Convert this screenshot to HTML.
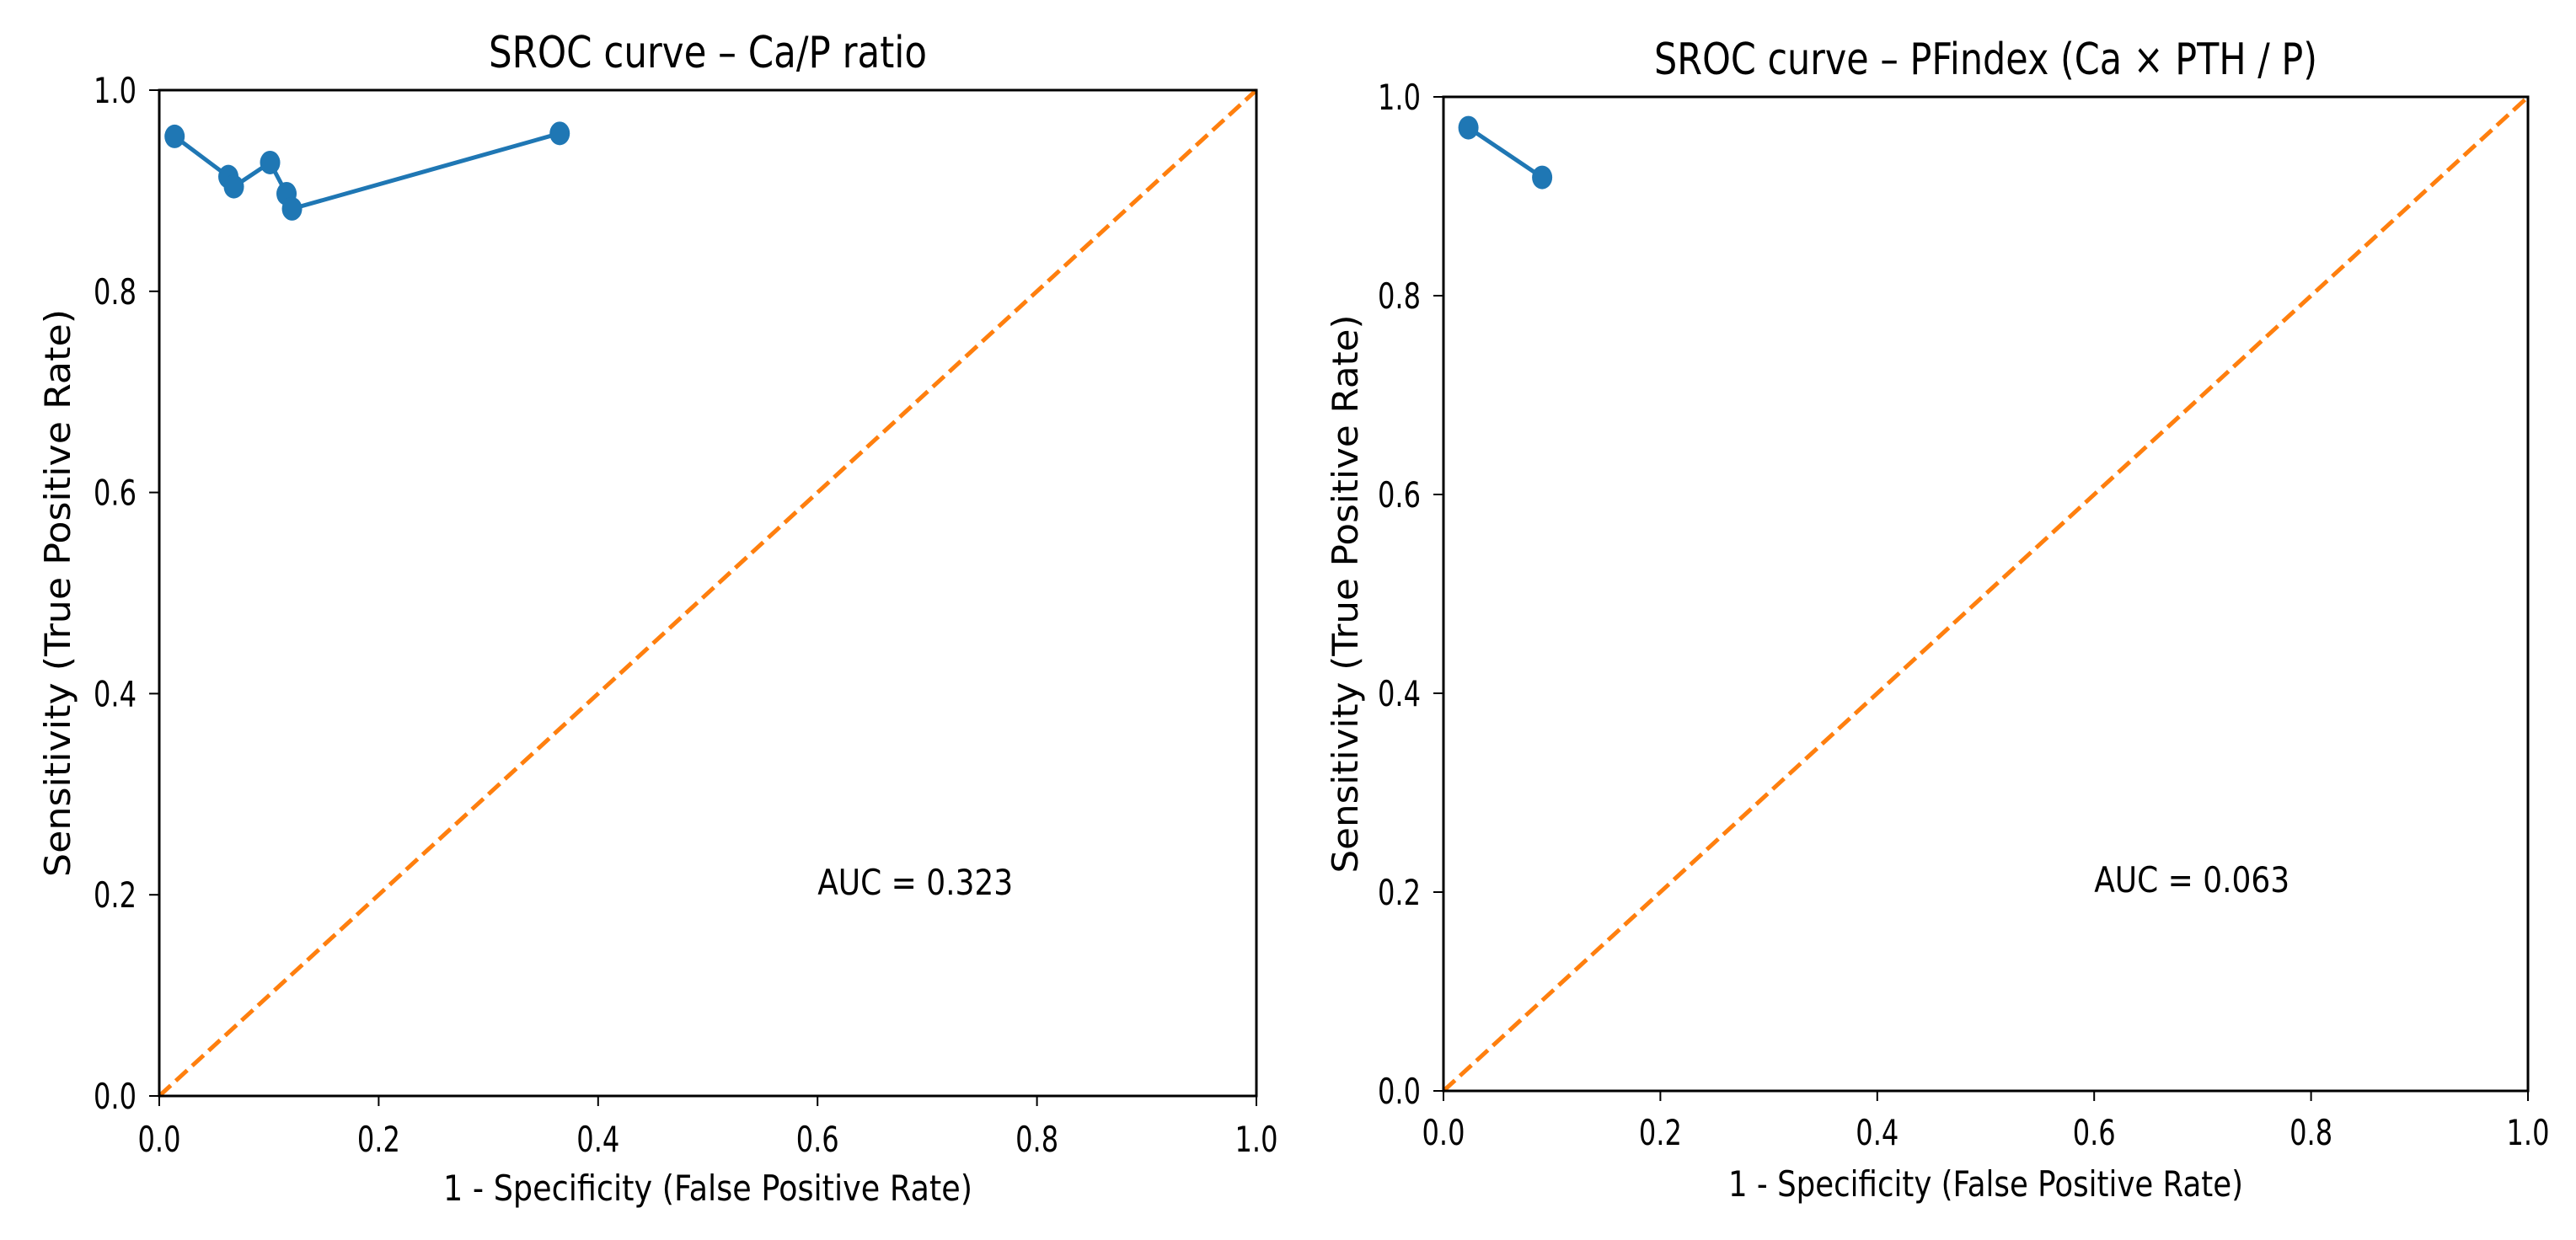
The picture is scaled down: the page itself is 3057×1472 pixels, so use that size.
<!DOCTYPE html>
<html><head><meta charset="utf-8"><style>
html,body{margin:0;padding:0;background:#fff;}
svg{display:block;}
text{font-family:"DejaVu Sans","Liberation Sans",sans-serif;fill:#000;}
</style></head><body>
<svg id="fig" width="3057" height="1472" viewBox="0 0 3057 1472" xmlns="http://www.w3.org/2000/svg"></svg>
<script>
const leftFpr = [0.014, 0.063, 0.068, 0.101, 0.116, 0.121, 0.365];
const leftTpr = [0.954, 0.914, 0.904, 0.928, 0.897, 0.882, 0.957];
const rightFpr = [0.023, 0.091];
const rightTpr = [0.969, 0.919];
const tickValues = [0, 0.2, 0.4, 0.6, 0.8, 1.0];
const tickLabels = ["0.0", "0.2", "0.4", "0.6", "0.8", "1.0"];
const leftAuc = "AUC = 0.323";
const rightAuc = "AUC = 0.063";

const NS = "http://www.w3.org/2000/svg";
const svg = document.getElementById('fig');
function mk(tag, attrs, parent) {
  const e = document.createElementNS(NS, tag);
  for (const k in attrs) e.setAttribute(k, attrs[k]);
  (parent || svg).appendChild(e);
  return e;
}
function txt(str, attrs, parent) { const t = mk('text', attrs, parent); t.textContent = str; return t; }

const panels = [
  {id:'left', x0:189, x1:1491, y0:107, y1:1301, fpr:leftFpr, tpr:leftTpr, auc:leftAuc,
   title:"SROC curve \u2013 Ca/P ratio", titleW:520, titleY:80, ylabX:83, ylabW:674, xlabY:1425, xlabW:628, xtickY:1367},
  {id:'right', x0:1713, x1:3000, y0:115, y1:1295, fpr:rightFpr, tpr:rightTpr, auc:rightAuc,
   title:"SROC curve \u2013 PFindex (Ca \u00d7 PTH / P)", titleW:787, titleY:88, ylabX:1611, ylabW:663, xlabY:1420, xlabW:611, xtickY:1359}
];

panels.forEach(p => {
  const sx = v => p.x0 + v * (p.x1 - p.x0);
  const sy = v => p.y1 - v * (p.y1 - p.y0);
  const g = mk('g', {});
  
  

  // diagonal reference
  const diag = mk('line', {x1:sx(0), y1:sy(0), x2:sx(1), y2:sy(1), stroke:'#ff7f0e', 'stroke-width':5, 'stroke-dasharray':'18.5 8'}, g);
  
  

  // curve
  const pts = p.fpr.map((f, i) => sx(f) + ',' + sy(p.tpr[i])).join(' ');
  const pl = mk('polyline', {points:pts, fill:'none', stroke:'#1f77b4', 'stroke-width':5, 'stroke-linejoin':'round'}, g);
  
  
  p.fpr.forEach((f, i) => {
    const c = mk('ellipse', {cx:sx(f), cy:sy(p.tpr[i]), rx:12, ry:14, fill:'#1f77b4'}, g);
    
    
  });

  // frame
  const fr = mk('rect', {x:p.x0, y:p.y0, width:p.x1 - p.x0, height:p.y1 - p.y0, fill:'none', stroke:'#000', 'stroke-width':3}, g);
  
  

  // ticks
  tickValues.forEach((v, i) => {
    mk('line', {x1:sx(v), x2:sx(v), y1:p.y1, y2:p.y1 + 12, stroke:'#000', 'stroke-width':2}, g);
    const xt = txt(tickLabels[i], {x:sx(v), y:p.xtickY, 'font-size':42, 'text-anchor':'middle', textLength:51, lengthAdjust:'spacingAndGlyphs'}, g);
    
    
    mk('line', {x1:p.x0 - 12, x2:p.x0, y1:sy(v), y2:sy(v), stroke:'#000', 'stroke-width':2}, g);
    const yt = txt(tickLabels[i], {x:p.x0 - 27, y:sy(v) + 15, 'font-size':42, 'text-anchor':'end', textLength:51, lengthAdjust:'spacingAndGlyphs'}, g);
    
    
  });

  const cx = (p.x0 + p.x1) / 2, cy = (p.y0 + p.y1) / 2;
  const t = txt(p.title, {x:cx, y:p.titleY, 'font-size':52, 'text-anchor':'middle', textLength:p.titleW, lengthAdjust:'spacingAndGlyphs'}, g);
  
  
  const xl = txt("1 - Specificity (False Positive Rate)", {x:cx, y:p.xlabY, 'font-size':42, 'text-anchor':'middle', textLength:p.xlabW, lengthAdjust:'spacingAndGlyphs'}, g);
  
  
  const yl = txt("Sensitivity (True Positive Rate)", {x:0, y:0, 'font-size':42, 'text-anchor':'middle', textLength:p.ylabW, lengthAdjust:'spacingAndGlyphs', transform:'translate(' + p.ylabX + ',' + cy + ') rotate(-90)'}, g);
  
  
  const au = txt(p.auc, {x:sx(0.6), y:sy(0.2), 'font-size':42, textLength:232, lengthAdjust:'spacingAndGlyphs'}, g);
  
  
});
</script>
</body></html>
